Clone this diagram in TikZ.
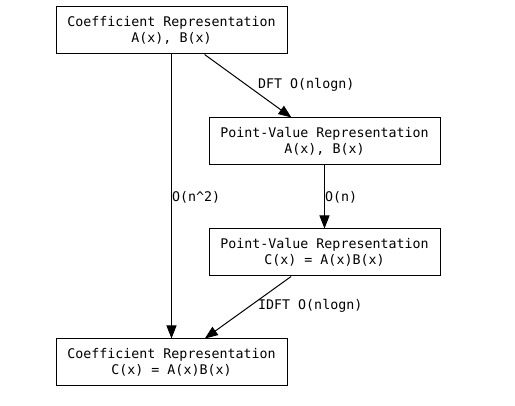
\documentclass[tikz,border=0pt]{standalone}
\usepackage{fontspec}
\setmonofont{DejaVu Sans Mono}
\usetikzlibrary{arrows.meta}
\begin{document}
\begin{tikzpicture}[x=1pt,y=-1pt,
  box/.style={draw, line width=1pt, minimum width=231pt, minimum height=47pt, inner sep=0pt, align=center, font=\ttfamily\fontsize{13.3}{16}\selectfont},
  edge/.style={line width=1pt, -{Triangle[length=13pt,width=10pt]}},
  lbl/.style={anchor=west, inner sep=0pt, font=\ttfamily\fontsize{13.3}{16}\selectfont}]
\useasboundingbox (0,0) rectangle (515,406);
\node[box] (b1) at (171.5,30.5) {Coefficient Representation\\A(x), B(x)};
\node[box] (b2) at (324.5,141.5) {Point-Value Representation\\A(x), B(x)};
\node[box] (b3) at (324.5,252.5) {Point-Value Representation\\C(x) = A(x)B(x)};
\node[box] (b4) at (171.5,362.5) {Coefficient Representation\\C(x) = A(x)B(x)};
\draw[edge] (b1) -- (b2);
\draw[edge] (b1) -- (b4);
\draw[edge] (b2) -- (b3);
\draw[edge] (b3) -- (b4);
\node[lbl] (l1) at (258,85) {DFT O(nlogn)};
\node[lbl] (l2) at (172,197) {O(n\textasciicircum 2)};
\node[lbl] (l3) at (325,197) {O(n)};
\node[lbl] (l4) at (258,306) {IDFT O(nlogn)};
\end{tikzpicture}
\end{document}
